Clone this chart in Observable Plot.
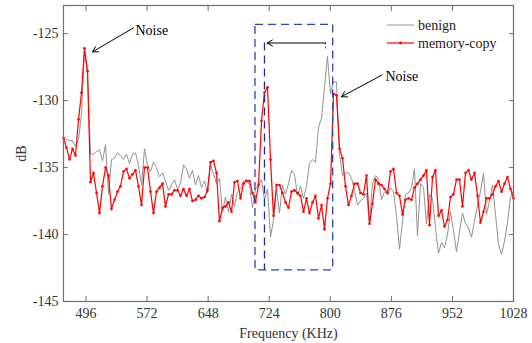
<!DOCTYPE html>
<html>
<head>
<meta charset="utf-8">
<script src="https://cdn.jsdelivr.net/npm/d3@7"></script>
<script src="https://cdn.jsdelivr.net/npm/@observablehq/plot@0.6"></script>
<style>
  html, body { margin: 0; padding: 0; background: #fff; }
  #wrap { position: relative; width: 532px; height: 343px; font-family: "Liberation Serif", "Times New Roman", serif; }
  #wrap svg text { font-family: "Liberation Serif", "Times New Roman", serif; }
  #legend { position: absolute; left: 0; top: 0; pointer-events: none; }
</style>
</head>
<body>
<div id="wrap"></div>
<script>
// Frequency grid (KHz)
const freq = [
  468, 471.7, 475.5, 479.2, 482.9, 486.7, 490.4, 494.1, 497.9, 501.6, 505.3, 509.1, 512.8, 516.5, 520.3,
  524, 527.7, 531.5, 535.2, 538.9, 542.7, 546.4, 550.1, 553.9, 557.6, 561.3, 565.1, 568.8, 572.5, 576.3,
  580, 583.7, 587.5, 591.2, 594.9, 598.7, 602.4, 606.1, 609.9, 613.6, 617.3, 621.1, 624.8, 628.5, 632.3,
  636, 639.7, 643.5, 647.2, 650.9, 654.7, 658.4, 662.1, 665.9, 669.6, 673.3, 677.1, 680.8, 684.5, 688.3,
  692, 695.7, 699.5, 703.2, 706.9, 710.7, 714.4, 718.1, 721.9, 725.6, 729.3, 733.1, 736.8, 740.5, 744.3,
  748, 751.7, 755.5, 759.2, 762.9, 766.7, 770.4, 774.1, 777.9, 781.6, 785.3, 789.1, 792.8, 796.5, 800.3,
  804, 807.7, 811.5, 815.2, 818.9, 822.7, 826.4, 830.1, 833.9, 837.6, 841.3, 845.1, 848.8, 852.5, 856.3,
  860, 863.7, 867.5, 871.2, 874.9, 878.7, 882.4, 886.1, 889.9, 893.6, 897.3, 901.1, 904.8, 908.5, 912.3,
  916, 919.7, 923.5, 927.2, 930.9, 934.7, 938.4, 942.1, 945.9, 949.6, 953.3, 957.1, 960.8, 964.5, 968.3,
  972, 975.7, 979.5, 983.2, 986.9, 990.7, 994.4, 998.1, 1001.9, 1005.6, 1009.3, 1013.1, 1016.8, 1020.5, 1024.3,
  1028
];

// benign (gray) dB values
const benign = [
  -132.8, -132.9, -133.0, -133.0, -133.4, -132.9, -131.0, -126.3, -128.0,
  -134.0, -134.0, -133.8, -133.7, -134.5, -133.3, -137.0, -134.4, -134.3, -133.9,
  -134.1, -134.4, -134.0, -134.7, -134.0, -133.9, -134.8, -136.3, -133.6, -134.8,
  -135.3, -134.6, -135.0, -135.7, -135.4, -136.0, -136.7, -136.3, -135.9, -136.6,
  -136.2, -134.8, -135.1, -135.8, -135.2, -136.3, -135.6, -136.5, -136.0, -136.9,
  -134.8, -135.5, -136.2, -135.8, -138.3, -137.2, -138.3, -137.0, -137.9, -136.8, -136.6,
  -136.0, -135.9, -136.3, -138.0, -136.6, -136.3, -135.9, -137.4, -136.6, -140.2,
  -138.9, -136.6, -138.4, -136.3, -137.0, -136.2, -135.2, -135.5, -137.1, -136.4,
  -137.3, -136.4, -134.7, -134.4, -134.6, -132.0, -131.3, -129.0, -126.7, -129.5,
  -128.6, -128.6, -134.0, -135.6, -135.4, -135.4, -135.8, -136.7, -137.8, -137.5,
  -137.3, -136.9, -139.2, -136.2, -135.6, -135.8, -137.4, -136.8, -137.0, -136.5,
  -136.8, -138.6, -141.1, -139.0, -137.0, -136.9, -136.5, -135.1, -140.1, -136.2,
  -136.5, -139.2, -137.0, -137.3, -139.5, -141.4, -140.6, -141.0, -140.0, -138.3,
  -139.7, -141.3, -139.8, -138.4, -139.2, -139.5, -140.2, -139.0, -137.8, -136.8,
  -135.4, -138.5, -137.5, -136.3, -138.5, -140.7, -141.5, -140.5, -139.1, -137.2,
  -136.7
];

// memory-copy (red) dB values
const memoryCopy = [
  -132.8, -133.5, -134.4, -133.6, -134.1, -131.4, -129.4, -126.1, -127.8, -136.1,
  -135.4, -136.9, -138.4, -136.4, -135.0, -135.6, -138.1, -137.4, -136.8, -136.4,
  -135.3, -135.1, -135.8, -135.5, -135.2, -136.4, -137.8, -135.0, -135.0, -136.8,
  -138.4,
  -136.8, -136.5, -136.2, -137.9, -137.0, -137.0, -136.7, -136.7, -137.1, -136.6,
  -137.1, -136.6, -137.5, -137.4, -137.1, -137.3, -137.2, -136.7, -134.6, -134.5,
  -135.4, -139.0, -138.0, -137.9, -137.6, -138.3, -136.1, -136.0,
  -137.3, -136.2, -136.0, -136.0, -136.9, -137.6, -136.3, -131.5, -129.4, -129.0,
  -134.4, -138.6, -136.3, -136.3, -136.9, -137.6, -138.0, -136.8, -136.7, -136.9,
  -137.1, -138.3, -137.3, -138.4, -137.6, -137.1, -138.8, -137.8, -139.6, -137.3,
  -136.2, -129.5, -129.6,
  -133.6, -134.3, -136.4, -137.8, -137.1, -136.2, -136.2, -136.9, -137.0, -135.6,
  -139.2, -137.7, -135.9, -136.2, -136.3, -136.6, -136.9, -135.3, -135.1, -136.9,
  -137.1, -138.5, -137.4, -137.3, -137.4, -136.5, -136.2, -135.9,
  -135.6, -135.2, -139.3, -135.7, -135.2, -138.6, -138.2, -139.4, -138.9, -137.2,
  -137.0, -135.9, -135.9, -137.9, -135.4, -135.2, -135.9, -135.4, -137.1, -139.1,
  -138.3, -137.3, -137.3, -137.0, -136.4, -136.0, -136.8, -136.2, -135.7, -136.6,
  -137.3
];

const xTicks = [496, 572, 648, 724, 800, 876, 952, 1028];
const yTicks = [-145, -140, -135, -130, -125];
const seriesNames = ["benign", "memory-copy"];
const seriesColors = ["#929292", "#ff0000"];

// Annotations (data units)
const noiseLabels = [
  {f: 557.6, db: -124.8, text: "Noise"},
  {f: 868.7, db: -128.2, text: "Noise"}
];
const noiseArrows = [
  {f1: 555.1, db1: -124.57, f2: 504.1, db2: -126.36},
  {f1: 864.6, db1: -128.08, f2: 813.9, db2: -129.71}
];
const shiftArrow = [{f1: 794.0, db1: -125.7, f2: 721.5, db2: -125.7}];
const dashBox = [{f1: 706.9, f2: 803.6, db1: -142.68, db2: -124.34}];
const dashInner = [{f: 718.1, db1: -125.7, db2: -142.68}];
const dashTick = [{f: 794.0, db1: -125.7, db2: -126.3}];

const benignData = freq.map((f, i) => ({f, db: benign[i]}));
const copyData = freq.map((f, i) => ({f, db: memoryCopy[i]}));

const boxColor = "#2a47a6";
const serif = "Liberation Serif";

const chart = Plot.plot({
  width: 532,
  height: 343,
  marginTop: 5,
  marginRight: 19,
  marginBottom: 42,
  marginLeft: 63,
  style: {fontFamily: serif, fontSize: "14px", color: "#222", background: "#fff"},
  x: {domain: [468, 1028]},
  y: {domain: [-145, -122.9]},
  marks: [
    Plot.line(benignData, {x: "f", y: "db", stroke: seriesColors[0], strokeWidth: 1}),
    Plot.line(copyData, {x: "f", y: "db", stroke: seriesColors[1], strokeWidth: 1.2}),
    Plot.dot(copyData, {x: "f", y: "db", r: 1.3, fill: seriesColors[1], stroke: "none"}),
    // dashed box
    Plot.rect(dashBox, {x1: "f1", x2: "f2", y1: "db1", y2: "db2", fill: "none", stroke: boxColor, strokeWidth: 1.3, strokeDasharray: "8,5"}),
    Plot.ruleX(dashInner, {x: "f", y1: "db1", y2: "db2", stroke: "#1a2f8f", strokeWidth: 1.3, strokeDasharray: "8,5"}),
    Plot.ruleX(dashTick, {x: "f", y1: "db1", y2: "db2", stroke: boxColor, strokeWidth: 1, strokeDasharray: "2,2"}),
    // arrows
    Plot.arrow(noiseArrows, {x1: "f1", y1: "db1", x2: "f2", y2: "db2", stroke: "#000", strokeWidth: 1, headLength: 9}),
    Plot.arrow(shiftArrow, {x1: "f1", y1: "db1", x2: "f2", y2: "db2", stroke: "#000", strokeWidth: 1, headLength: 9}),
    Plot.text(noiseLabels, {x: "f", y: "db", text: "text", textAnchor: "start", fontSize: 14, fontFamily: serif, fill: "#000"}),
    // frame & axes
    Plot.frame({stroke: "#6e6e6e", strokeWidth: 1.2}),
    Plot.axisX({anchor: "bottom", ticks: xTicks, tickSize: -5, tickPadding: 12, tickFormat: d => String(d),
      stroke: "#6e6e6e", fill: "#333", label: "Frequency (KHz)", labelAnchor: "center", labelArrow: "none", labelOffset: 36, fontSize: 14, fontFamily: serif}),
    Plot.axisX({anchor: "top", ticks: xTicks, tickSize: -5, tickFormat: () => "", stroke: "#6e6e6e", label: null}),
    Plot.axisY({anchor: "left", ticks: yTicks, tickSize: -5, tickPadding: 10, tickFormat: d => String(d),
      stroke: "#6e6e6e", fill: "#333", label: "dB", labelAnchor: "center", labelArrow: "none", labelOffset: 47, fontSize: 14, fontFamily: serif}),
    Plot.axisY({anchor: "right", ticks: yTicks, tickSize: -5, tickFormat: () => "", stroke: "#6e6e6e", label: null})
  ]
});

const wrap = document.getElementById("wrap");
wrap.appendChild(chart);

// Legend overlay (inside plot, top-right)
const ns = "http://www.w3.org/2000/svg";
const leg = document.createElementNS(ns, "svg");
leg.setAttribute("id", "legend");
leg.setAttribute("width", 532);
leg.setAttribute("height", 343);
const rows = [{y: 25, dot: false}, {y: 43, dot: true}];
seriesNames.forEach((name, i) => {
  const y = rows[i].y;
  const line = document.createElementNS(ns, "line");
  line.setAttribute("x1", 387); line.setAttribute("x2", 414);
  line.setAttribute("y1", y); line.setAttribute("y2", y);
  line.setAttribute("stroke", seriesColors[i]);
  line.setAttribute("stroke-width", i ? 1.2 : 1);
  leg.appendChild(line);
  if (rows[i].dot) {
    const c = document.createElementNS(ns, "circle");
    c.setAttribute("cx", 400.5); c.setAttribute("cy", y); c.setAttribute("r", 1.4);
    c.setAttribute("fill", seriesColors[i]);
    leg.appendChild(c);
  }
  const t = document.createElementNS(ns, "text");
  t.setAttribute("x", 418); t.setAttribute("y", y);
  t.setAttribute("dy", "0.35em");
  t.setAttribute("font-size", 14);
  t.setAttribute("font-family", serif);
  t.setAttribute("fill", "#222");
  t.textContent = name;
  leg.appendChild(t);
});
wrap.appendChild(leg);
</script>
</body>
</html>
